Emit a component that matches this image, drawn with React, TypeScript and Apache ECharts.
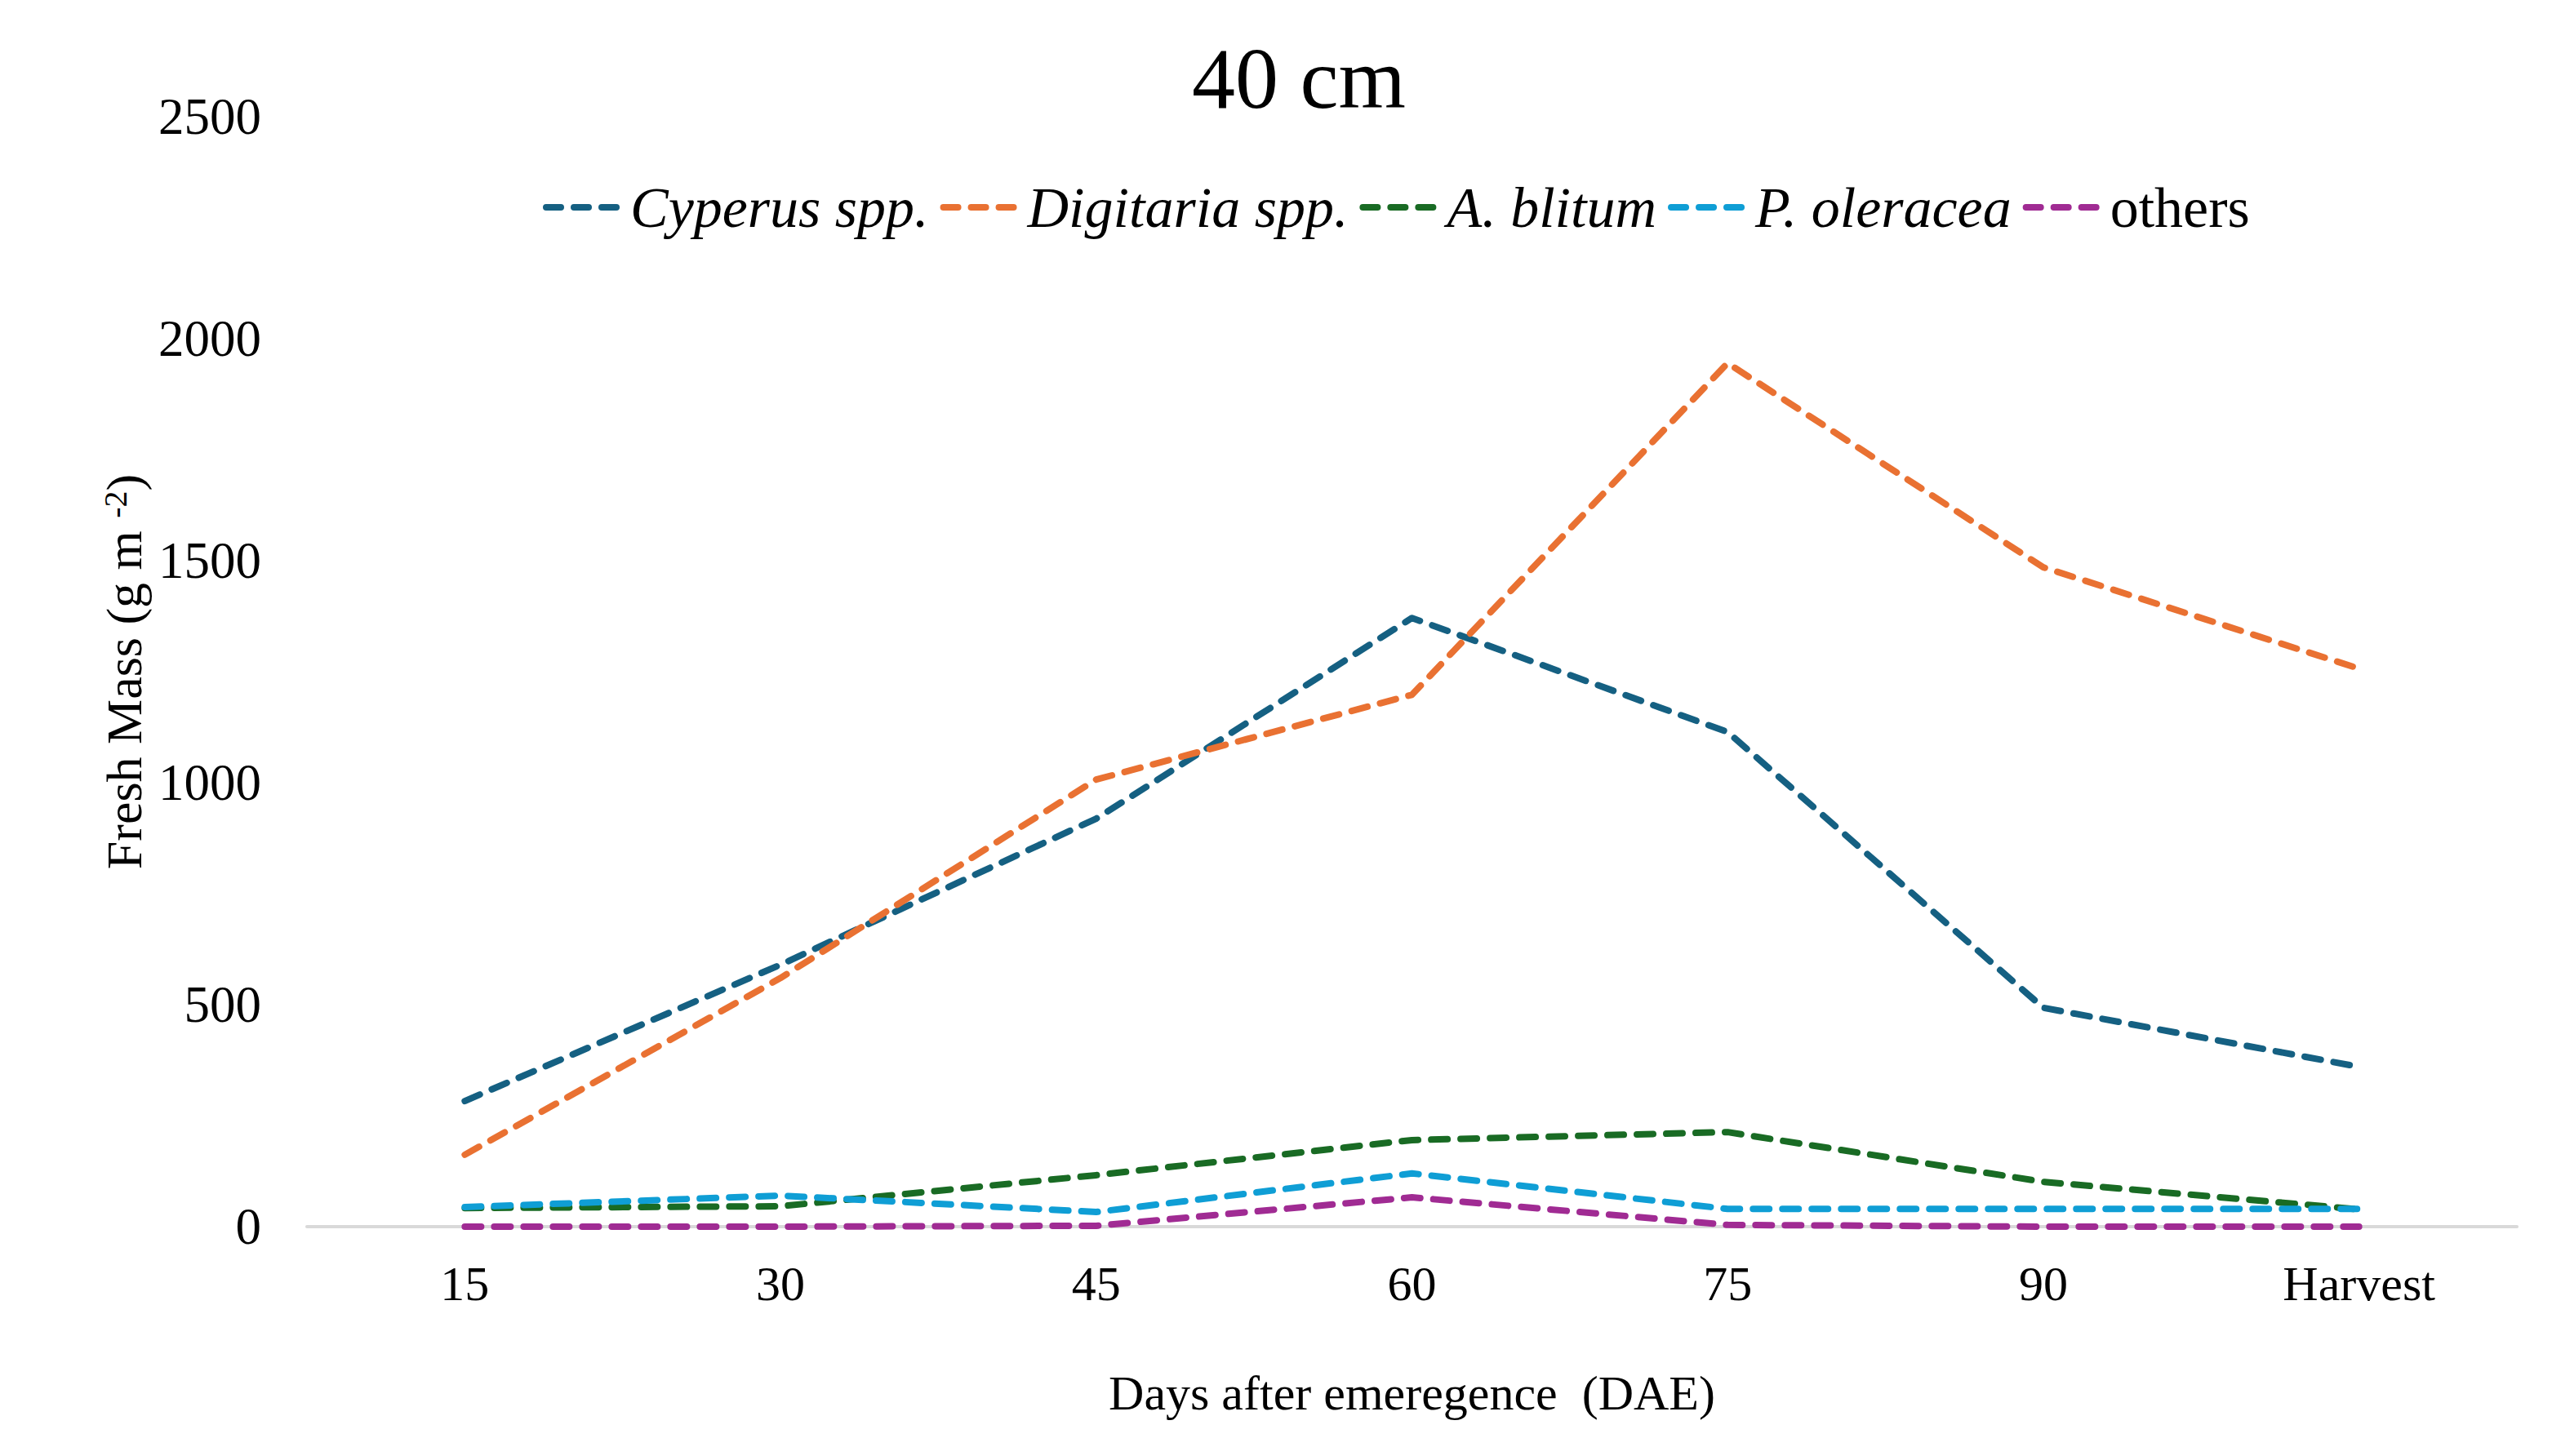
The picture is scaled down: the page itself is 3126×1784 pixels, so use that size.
import * as echarts from "echarts";
import React, { useEffect, useRef } from "react";

const categories = ["15", "30", "45", "60", "75", "90", "Harvest"];
const cyperus = [283, 590, 919, 1371, 1114, 493, 360];
const digitaria = [162, 560, 1007, 1198, 1945, 1485, 1257];
const blitum = [42, 46, 116, 195, 213, 101, 39];
const oleracea = [44, 70, 33, 120, 40, 40, 40];
const others = [0, 0, 2, 66, 4, 0, 0];

const seriesNames = ["Cyperus spp.", "Digitaria spp.", "A. blitum", "P. oleracea", "others"];
const seriesColors = ["#156082", "#E97132", "#196B24", "#0F9ED5", "#A02B93"];
const seriesValues = [cyperus, digitaria, blitum, oleracea, others];

const FONT = "Liberation Serif";

export default function App() {
	const ref = useRef<HTMLDivElement>(null);

	useEffect(() => {
		const chart = echarts.init(ref.current, null, { renderer: "svg" });
		chart.setOption({
			animation: false,
			backgroundColor: "#ffffff",
			textStyle: { fontFamily: FONT, color: "#000" },
			title: {
				text: "40 cm",
				left: 1586,
				textAlign: "center",
				top: 38,
				textStyle: { fontFamily: FONT, fontSize: 106, fontWeight: "normal", color: "#000" },
			},
			legend: {
				left: 660,
				top: 214,
				itemWidth: 100,
				itemHeight: 24,
				itemGap: 14,
				// hide the circle that the legend adds to line icons
				itemStyle: { opacity: 0 },
				lineStyle: { width: 8, type: [18, 16], cap: "round" },
				data: seriesNames.map((n) => ({
					name: n,
					textStyle: { fontStyle: n === "others" ? "normal" : "italic" },
				})),
				textStyle: { fontFamily: FONT, fontSize: 70, color: "#000", padding: [0, 0, 0, -2] },
			},
			grid: { left: 376, right: 43, top: 143, bottom: 281, containLabel: false },
			xAxis: {
				type: "category",
				data: categories,
				boundaryGap: true,
				axisLine: { show: true, lineStyle: { color: "#d9d9d9", width: 4 } },
				axisTick: { show: false },
				axisLabel: { fontFamily: FONT, fontSize: 60, color: "#000", margin: 40 },
				name: "Days after emeregence  (DAE)",
				nameLocation: "middle",
				nameGap: 174,
				nameTextStyle: { fontFamily: FONT, fontSize: 60, color: "#000" },
			},
			yAxis: {
				type: "value",
				min: 0,
				max: 2500,
				interval: 500,
				axisLine: { show: false },
				axisTick: { show: false },
				splitLine: { show: false },
				axisLabel: { fontFamily: FONT, fontSize: 63, color: "#000", margin: 56, formatter: (v: number) => String(v) },
				name: "Fresh Mass (g m {sup|-2})",
				nameLocation: "middle",
				nameGap: 150,
				nameTextStyle: {
					fontFamily: FONT,
					fontSize: 62,
					color: "#000",
					rich: { sup: { fontFamily: FONT, fontSize: 40, color: "#000", verticalAlign: "top", padding: [0, 0, 22, 0] } },
				},
			},
			series: seriesNames.map((n, i) => ({
				name: n,
				type: "line",
				data: seriesValues[i],
				symbol: "none",
				color: seriesColors[i],
				lineStyle: { color: seriesColors[i], width: 8, type: [20, 16], cap: "round", join: "round" },
			})),
		});
		return () => chart.dispose();
	}, []);

	return <div ref={ref} style={{ position: "fixed", left: 0, top: 0, width: 3126, height: 1784 }} />;
}
